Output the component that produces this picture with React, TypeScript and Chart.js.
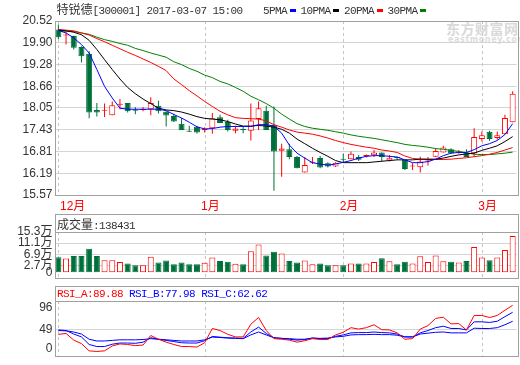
import React, { useEffect, useRef } from 'react';
import { Chart, registerables } from 'chart.js';

Chart.register(...registerables);

// ---------- data ----------
const dates = [
  '2016-12-06', '2016-12-07', '2016-12-08', '2016-12-09', '2016-12-12', '2016-12-13', '2016-12-14', '2016-12-15', '2016-12-16', '2016-12-19',
  '2016-12-20', '2016-12-21', '2016-12-22', '2016-12-23', '2016-12-26', '2016-12-27', '2016-12-28', '2016-12-29', '2016-12-30',
  '2017-01-03', '2017-01-04', '2017-01-05', '2017-01-06', '2017-01-09', '2017-01-10', '2017-01-11', '2017-01-12', '2017-01-13', '2017-01-16',
  '2017-01-17', '2017-01-18', '2017-01-19', '2017-01-20', '2017-01-23', '2017-01-24', '2017-01-25', '2017-01-26',
  '2017-02-03', '2017-02-06', '2017-02-07', '2017-02-08', '2017-02-09', '2017-02-10', '2017-02-13', '2017-02-14', '2017-02-15', '2017-02-16',
  '2017-02-17', '2017-02-20', '2017-02-21', '2017-02-22', '2017-02-23', '2017-02-24', '2017-02-27', '2017-02-28',
  '2017-03-01', '2017-03-02', '2017-03-03', '2017-03-06', '2017-03-07',
];

const opens = [
  20.28, 20.11, 20.09, 19.78, 19.59, 17.99, 17.97, 17.84, 18.14, 18.19,
  18.00, 17.99, 18.01, 18.11, 17.94, 17.82, 17.60, 17.38, 17.51, 17.42,
  17.47, 17.78, 17.65, 17.40, 17.43, 17.40, 17.73, 17.97, 17.57, 16.83,
  16.87, 16.65, 16.21, 16.49, 16.62, 16.47, 16.38, 16.58, 16.59, 16.65,
  16.68, 16.70, 16.78, 16.55, 16.63, 16.57, 16.38, 16.36, 16.52, 16.66,
  16.78, 16.87, 16.78, 16.78, 16.76, 17.16, 17.37, 17.19, 17.30, 17.64,
];
const highs = [
  20.42, 20.20, 20.10, 19.80, 19.66, 18.19, 18.17, 18.23, 18.30, 18.19,
  18.07, 18.07, 18.35, 18.25, 17.95, 17.88, 17.76, 17.54, 17.54, 17.50,
  17.90, 17.85, 17.71, 17.54, 17.52, 18.17, 18.23, 18.11, 18.09, 17.03,
  17.03, 16.68, 16.65, 16.65, 16.68, 16.50, 16.50, 16.74, 16.81, 16.71,
  16.72, 16.85, 16.78, 16.71, 16.66, 16.57, 16.48, 16.66, 16.65, 16.90,
  16.97, 16.90, 16.85, 16.87, 17.47, 17.38, 17.40, 17.38, 17.85, 18.52,
];
const lows = [
  20.01, 19.85, 19.71, 19.34, 17.75, 17.80, 17.79, 17.84, 18.01, 17.92,
  17.87, 17.95, 17.84, 17.89, 17.52, 17.65, 17.42, 17.36, 17.32, 17.35,
  17.31, 17.62, 17.38, 17.33, 17.33, 17.12, 17.42, 17.42, 15.69, 16.09,
  16.59, 16.33, 16.21, 16.45, 16.33, 16.35, 16.37, 16.49, 16.59, 16.54,
  16.64, 16.65, 16.52, 16.52, 16.58, 16.28, 16.28, 16.21, 16.41, 16.65,
  16.78, 16.74, 16.74, 16.65, 16.66, 17.09, 17.11, 17.14, 17.30, 17.64,
];
const closes = [
  20.06, 20.11, 19.76, 19.52, 17.92, 17.92, 17.97, 18.12, 18.14, 17.95,
  17.97, 17.99, 18.19, 17.95, 17.83, 17.66, 17.42, 17.37, 17.35, 17.42,
  17.75, 17.62, 17.42, 17.46, 17.42, 17.69, 18.04, 17.42, 16.81, 16.89,
  16.65, 16.33, 16.42, 16.49, 16.35, 16.38, 16.49, 16.57, 16.74, 16.57,
  16.68, 16.78, 16.65, 16.63, 16.62, 16.31, 16.38, 16.52, 16.52, 16.82,
  16.92, 16.76, 16.78, 16.65, 17.22, 17.27, 17.16, 17.27, 17.76, 18.45,
];

// volume in 万手
const volumes = [
  5.8, 5.3, 6.3, 6.3, 9.0, 6.3, 4.7, 4.7, 4.0, 3.5,
  2.8, 2.8, 6.0, 3.8, 4.6, 3.2, 3.8, 3.2, 3.2, 3.7,
  5.7, 4.4, 4.1, 3.4, 3.2, 8.1, 10.6, 6.5, 7.9, 7.2,
  4.4, 3.8, 4.6, 3.2, 3.5, 2.8, 2.8, 2.8, 3.5, 3.5,
  3.5, 4.0, 5.4, 4.3, 3.2, 4.1, 3.5, 6.2, 4.0, 6.5,
  4.3, 4.1, 3.8, 4.4, 9.7, 5.7, 4.7, 5.7, 8.5, 13.84,
];

const ma5 = [
  20.25, 20.18, 20.04, 19.85, 19.61, 19.14, 18.66, 18.33, 18.04, 18.01,
  18.01, 18.01, 18.01, 18.01, 17.97, 17.86, 17.76, 17.64, 17.51, 17.45,
  17.46, 17.50, 17.52, 17.52, 17.52, 17.52, 17.57, 17.57, 17.53, 17.33,
  16.99, 16.76, 16.62, 16.49, 16.45, 16.42, 16.45, 16.50, 16.55, 16.62,
  16.67, 16.69, 16.69, 16.67, 16.65, 16.57, 16.49, 16.49, 16.52, 16.59,
  16.69, 16.76, 16.78, 16.78, 16.86, 16.97, 17.03, 17.12, 17.29, 17.60,
];
const ma10 = [
  20.26, 20.24, 20.20, 20.13, 19.97, 19.71, 19.42, 19.14, 18.87, 18.63,
  18.45, 18.30, 18.17, 18.04, 17.99, 17.97, 17.93, 17.87, 17.80, 17.75,
  17.73, 17.71, 17.66, 17.59, 17.53, 17.53, 17.55, 17.53, 17.50, 17.44,
  17.33, 17.16, 17.03, 16.90, 16.78, 16.67, 16.55, 16.49, 16.49, 16.49,
  16.49, 16.51, 16.53, 16.55, 16.57, 16.57, 16.57, 16.59, 16.59, 16.59,
  16.62, 16.67, 16.71, 16.74, 16.76, 16.84, 16.90, 16.97, 17.09, 17.23,
];
const ma20 = [
  20.28, 20.26, 20.24, 20.18, 20.12, 20.02, 19.93, 19.83, 19.73, 19.63,
  19.54, 19.44, 19.34, 19.23, 19.11, 18.87, 18.71, 18.54, 18.39, 18.23,
  18.09, 17.95, 17.85, 17.77, 17.75, 17.74, 17.73, 17.68, 17.57, 17.50,
  17.42, 17.36, 17.33, 17.30, 17.25, 17.19, 17.12, 17.06, 17.01, 16.97,
  16.93, 16.90, 16.85, 16.82, 16.78, 16.68, 16.61, 16.59, 16.58, 16.58,
  16.58, 16.59, 16.61, 16.63, 16.66, 16.69, 16.73, 16.78, 16.85, 16.92,
];
const ma30 = [
  20.23, 20.23, 20.22, 20.18, 20.14, 20.06, 19.99, 19.94, 19.88, 19.83,
  19.74, 19.68, 19.61, 19.55, 19.49, 19.36, 19.28, 19.17, 19.09, 18.98,
  18.91, 18.80, 18.73, 18.63, 18.52, 18.38, 18.28, 18.17, 18.04, 17.87,
  17.73, 17.60, 17.52, 17.47, 17.44, 17.41, 17.37, 17.33, 17.28, 17.24,
  17.21, 17.18, 17.14, 17.10, 17.06, 17.01, 16.98, 16.96, 16.93, 16.89,
  16.87, 16.84, 16.81, 16.77, 16.73, 16.72, 16.72, 16.74, 16.76, 16.79,
];

const rsiA = [
  40.2, 41.7, 30.3, 24.3, 11.9, 10.9, 11.9, 20.3, 23.8, 22.8,
  20.9, 21.8, 38.2, 31.8, 26.8, 22.8, 19.3, 19.3, 18.4, 25.8,
  50.2, 46.7, 40.2, 35.8, 35.8, 57.6, 69.0, 46.7, 32.8, 31.8,
  30.3, 26.8, 29.3, 32.8, 31.3, 31.3, 39.2, 43.7, 51.6, 49.2,
  51.6, 56.6, 48.2, 47.7, 42.7, 31.8, 32.8, 49.2, 55.1, 67.5,
  69.5, 58.1, 58.6, 47.7, 72.5, 72.5, 69.0, 72.5, 81.5, 89.88,
];
const rsiB = [
  47.7, 46.7, 40.7, 35.8, 22.8, 19.3, 19.3, 23.3, 25.3, 25.3,
  24.8, 26.8, 34.3, 31.8, 29.8, 27.8, 25.8, 25.3, 25.3, 29.3,
  36.5, 35.3, 34.3, 33.8, 33.3, 44.2, 52.6, 41.7, 34.3, 33.3,
  31.8, 30.3, 31.3, 33.8, 32.8, 32.8, 36.8, 39.2, 42.7, 43.2,
  43.2, 44.2, 43.2, 42.7, 40.7, 35.8, 35.8, 42.7, 46.7, 51.6,
  54.1, 50.2, 50.2, 47.7, 61.6, 61.6, 60.6, 62.6, 70.5, 77.98,
];
const rsiC = [
  46.7, 46.2, 44.2, 40.7, 31.8, 28.8, 28.8, 29.8, 30.8, 30.8,
  30.8, 31.3, 32.8, 31.8, 30.8, 29.8, 28.8, 28.8, 28.8, 30.8,
  35.5, 34.8, 33.8, 33.3, 32.8, 39.2, 44.2, 39.2, 34.3, 33.3,
  32.8, 31.8, 31.8, 33.8, 33.3, 33.8, 35.8, 36.8, 39.2, 39.7,
  39.7, 40.2, 39.7, 39.7, 38.7, 35.8, 35.8, 40.7, 42.2, 43.7,
  44.2, 42.7, 42.7, 42.7, 50.7, 50.2, 50.2, 51.6, 56.6, 62.62,
];

const priceTicks = [15.57, 16.19, 16.81, 17.43, 18.05, 18.66, 19.28, 19.90, 20.52];
const volumeTicks = [0, 2.7, 6.9, 11.1, 15.3];
const rsiTickValues = [16, 49, 86];
const rsiTickLabels = ['0', '49', '96'];
const monthStarts = [0, 19, 37, 55];
const monthLabels = ['12月', '1月', '2月', '3月'];
const maNames = ['5PMA', '10PMA', '20PMA', '30PMA'];

const stockTitle = '特锐德';
const stockInfo = '[300001] 2017-03-07 15:00';
const volumeTitle = '成交量';
const lastVolume = '138431';
const rsiLegend = [
  { name: 'RSI_A', value: '89.88' },
  { name: 'RSI_B', value: '77.98' },
  { name: 'RSI_C', value: '62.62' },
];

// ---------- styles ----------
const RED = '#ff0000';
const GREEN = '#00703a';
const BLUE = '#0000ff';
const maColors = [BLUE, '#000000', RED, '#008000'];
const rsiColors = [RED, BLUE, BLUE];
const FRAME = '#a0a0a0';
const GRID = '#d4d4d4';
const DASH = '#c4c4c4';
const AXIS_FONT = { family: '"Liberation Sans", "Noto Sans CJK SC", sans-serif', size: 12 };
const PLOT_LEFT = 54.5;
const RIGHT_PAD = 3.5;

const isUp = (i: number) => closes[i] >= opens[i];

function panelPlugin(opts: { separator: boolean; months: boolean }) {
  return {
    id: 'panel',
    beforeDatasetsDraw(chart: any) {
      const { ctx, chartArea, scales } = chart;
      ctx.save();
      ctx.strokeStyle = DASH;
      ctx.lineWidth = 1;
      ctx.setLineDash([3, 3]);
      monthStarts.forEach((idx) => {
        const px = Math.round(scales.x.getPixelForValue(idx)) + 0.5;
        ctx.beginPath();
        ctx.moveTo(px, chartArea.top);
        ctx.lineTo(px, chartArea.bottom);
        ctx.stroke();
      });
      ctx.restore();
    },
    afterDraw(chart: any) {
      const { ctx, chartArea, scales } = chart;
      ctx.save();
      ctx.strokeStyle = FRAME;
      ctx.lineWidth = 1;
      const l = 55.5;
      const r = 518.5;
      const b = Math.round(chartArea.bottom) + 0.5;
      const ct = Math.round(chartArea.top) + 0.5;
      const t = opts.separator ? 0.5 : ct;
      ctx.strokeRect(l, t, r - l, b - t);
      if (opts.separator) {
        ctx.beginPath();
        ctx.moveTo(l, ct);
        ctx.lineTo(r, ct);
        ctx.stroke();
      }
      if (opts.months) {
        ctx.fillStyle = RED;
        ctx.font = '12px "Liberation Sans", "Noto Sans CJK SC", sans-serif';
        ctx.textBaseline = 'middle';
        ctx.textAlign = 'left';
        monthStarts.forEach((idx, k) => {
          const px = scales.x.getPixelForValue(idx);
          const x = Math.max(px - 3.6, chartArea.left + 5.5);
          ctx.fillText(monthLabels[k], x, chartArea.bottom + 11.5);
        });
      }
      ctx.restore();
    },
  };
}

function xScale() {
  return { type: 'category', display: false, offset: true, grid: { offset: false } };
}

function yScale(min: number, max: number, values: number[], label: (v: number) => string, gridColor: (v: number) => string) {
  return {
    position: 'left',
    min,
    max,
    afterFit: (s: any) => {
      s.width = PLOT_LEFT;
    },
    afterBuildTicks: (s: any) => {
      s.ticks = values.map((v) => ({ value: v }));
    },
    ticks: {
      autoSkip: false,
      font: AXIS_FONT,
      color: '#333333',
      padding: 2,
      callback: (v: any) => label(Number(v)),
    },
    grid: {
      drawTicks: false,
      lineWidth: 1,
      color: (c: any) => gridColor(c.tick ? c.tick.value : NaN),
    },
    border: { display: false },
  };
}

const baseOptions = (padTop: number, padBottom: number) => ({
  animation: false,
  responsive: false,
  maintainAspectRatio: false,
  devicePixelRatio: 1,
  events: [],
  layout: { padding: { top: padTop, bottom: padBottom, left: 0, right: RIGHT_PAD } },
  plugins: { legend: { display: false }, tooltip: { enabled: false } },
});

function priceConfig(): any {
  const maData = [ma5, ma10, ma20, ma30];
  return {
    type: 'bar',
    data: {
      labels: dates,
      datasets: [
        ...maData.map((d, k) => ({
          type: 'line',
          label: maNames[k],
          data: d,
          borderColor: maColors[k],
          borderWidth: 1,
          pointRadius: 0,
          tension: 0,
          order: 0,
        })),
        {
          type: 'bar',
          label: 'body',
          data: opens.map((o, i) => [o, closes[i]]),
          backgroundColor: opens.map((_, i) => (isUp(i) ? '#ffffff' : GREEN)),
          borderColor: opens.map((_, i) => (isUp(i) ? RED : GREEN)),
          borderWidth: 1,
          borderSkipped: false,
          inflateAmount: 0,
          barThickness: 6,
          minBarLength: 1,
          grouped: false,
          order: 1,
        },
        {
          type: 'bar',
          label: 'wick',
          data: lows.map((l, i) => [l, highs[i]]),
          backgroundColor: opens.map((_, i) => (isUp(i) ? RED : GREEN)),
          borderWidth: 0,
          inflateAmount: 0,
          barThickness: 1,
          grouped: false,
          order: 2,
        },
      ],
    },
    options: {
      ...baseOptions(21, 19),
      scales: {
        x: xScale(),
        y: yScale(15.57, 20.52, priceTicks, (v) => v.toFixed(2), () => GRID),
      },
    },
    plugins: [panelPlugin({ separator: false, months: true })],
  };
}

function volumeConfig(): any {
  return {
    type: 'bar',
    data: {
      labels: dates,
      datasets: [
        {
          label: volumeTitle,
          data: volumes,
          backgroundColor: volumes.map((_, i) => (isUp(i) ? '#ffffff' : GREEN)),
          borderColor: volumes.map((_, i) => (isUp(i) ? RED : GREEN)),
          borderWidth: 1,
          borderSkipped: false,
          inflateAmount: 0,
          barThickness: 6,
        },
      ],
    },
    options: {
      ...baseOptions(18, 1),
      scales: {
        x: xScale(),
        y: yScale(-1.91, 15.3, volumeTicks, (v) => (v === 0 ? '0' : v.toFixed(1) + '万'), (v) =>
          v === 0 || v === 15.3 ? 'rgba(0,0,0,0)' : GRID
        ),
      },
    },
    plugins: [panelPlugin({ separator: true, months: false })],
  };
}

function rsiConfig(): any {
  const sets = [rsiA, rsiB, rsiC];
  return {
    type: 'line',
    data: {
      labels: dates,
      datasets: sets.map((d, k) => ({
        label: rsiLegend[k].name,
        data: d,
        borderColor: rsiColors[k],
        borderWidth: 1,
        pointRadius: 0,
        tension: 0,
      })),
    },
    options: {
      ...baseOptions(15, 1),
      scales: {
        x: xScale(),
        y: yScale(3.43, 97.3, rsiTickValues, (v) => rsiTickLabels[rsiTickValues.indexOf(v)] ?? '', (v) =>
          v === 49 ? GRID : 'rgba(0,0,0,0)'
        ),
      },
    },
    plugins: [panelPlugin({ separator: true, months: false })],
  };
}

const mono: React.CSSProperties = {
  fontFamily: '"Liberation Mono", "DejaVu Sans Mono", monospace',
  fontSize: 11,
  letterSpacing: '-0.6px',
};
const cjk: React.CSSProperties = { fontFamily: '"Noto Sans CJK SC", sans-serif', fontSize: 12, letterSpacing: 0 };
const textRow: React.CSSProperties = {
  position: 'absolute',
  height: 14,
  lineHeight: '14px',
  whiteSpace: 'nowrap',
  color: '#333333',
};

export default function App() {
  const priceRef = useRef<HTMLCanvasElement>(null);
  const volRef = useRef<HTMLCanvasElement>(null);
  const rsiRef = useRef<HTMLCanvasElement>(null);

  useEffect(() => {
    const charts = [
      new Chart(priceRef.current as HTMLCanvasElement, priceConfig()),
      new Chart(volRef.current as HTMLCanvasElement, volumeConfig()),
      new Chart(rsiRef.current as HTMLCanvasElement, rsiConfig()),
    ];
    return () => charts.forEach((c) => c.destroy());
  }, []);

  return (
    <div style={{ position: 'fixed', left: 0, top: 0, width: 520, height: 365, background: '#ffffff', overflow: 'hidden' }}>
      {/* watermark */}
      <div style={{ position: 'absolute', left: 446, top: 20, color: '#d9d9d9', fontFamily: '"Noto Sans CJK SC"', fontSize: 14, fontWeight: 700, lineHeight: '16px', letterSpacing: '0.5px' }}>
        东方财富网
      </div>
      <div style={{ position: 'absolute', left: 448, top: 35, color: '#dcdcdc', fontFamily: '"DejaVu Sans"', fontSize: 8, fontWeight: 700, lineHeight: '10px', letterSpacing: '0.6px' }}>
        eastmoney.com
      </div>

      <canvas ref={priceRef} width={520} height={214} style={{ position: 'absolute', left: 0, top: 0 }} />
      <canvas ref={volRef} width={520} height={73} style={{ position: 'absolute', left: 0, top: 214 }} />
      <canvas ref={rsiRef} width={520} height={79} style={{ position: 'absolute', left: 0, top: 286 }} />

      <div style={{ ...textRow, left: 56.5, top: 2 }}>
        <span style={cjk}>{stockTitle}</span>
        <span style={mono}>{stockInfo}</span>
      </div>

      <div style={{ ...textRow, left: 263, top: 3.5, ...mono }}>
        {maNames.map((n, k) => (
          <span key={n}>
            {n}
            <span
              style={{
                display: 'inline-block',
                width: 6,
                height: 3,
                background: maColors[k],
                marginLeft: 2.5,
                marginRight: 5,
                verticalAlign: 'middle',
              }}
            />
          </span>
        ))}
      </div>

      <div style={{ ...textRow, left: 57, top: 216.5 }}>
        <span style={cjk}>{volumeTitle}</span>
        <span style={mono}>:{lastVolume}</span>
      </div>

      <div style={{ ...textRow, left: 57, top: 287, ...mono }}>
        {rsiLegend.map((r, k) => (
          <span key={r.name} style={{ color: rsiColors[k] }}>
            {r.name}:{r.value}
            {k < rsiLegend.length - 1 ? ' ' : ''}
          </span>
        ))}
      </div>
    </div>
  );
}
